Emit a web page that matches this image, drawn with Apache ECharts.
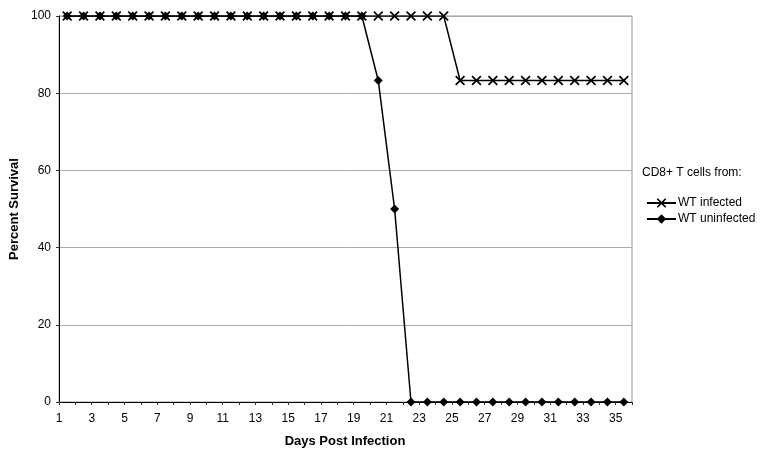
<!DOCTYPE html>
<html>
<head>
<meta charset="utf-8">
<script src="https://cdn.jsdelivr.net/npm/echarts@6/dist/echarts.min.js"></script>
<style>html,body{margin:0;padding:0;background:#fff;}#c{width:761px;height:459px;}</style>
</head>
<body>
<div id="c"></div>
<script>
// Days post infection (categories)
var days = ['1','2','3','4','5','6','7','8','9','10','11','12','13','14','15','16','17','18','19','20','21','22','23','24','25','26','27','28','29','30','31','32','33','34','35'];
// Percent survival, CD8+ T cells from WT infected mice
var wtInfected = [100,100,100,100,100,100,100,100,100,100,100,100,100,100,100,100,100,100,100,100,100,100,100,100,83.3,83.3,83.3,83.3,83.3,83.3,83.3,83.3,83.3,83.3,83.3];
// Percent survival, CD8+ T cells from WT uninfected mice
var wtUninfected = [100,100,100,100,100,100,100,100,100,100,100,100,100,100,100,100,100,100,100,83.3,50,0,0,0,0,0,0,0,0,0,0,0,0,0,0];
// Axis ticks
var yTicks = [0,20,40,60,80,100];
var xTickMin = 1, xTickMax = 36;

var FONT = "'Liberation Sans', Arial, Helvetica, sans-serif";
var xPath = 'path://M0,0.12L0.12,0L0.5,0.38L0.88,0L1,0.12L0.62,0.5L1,0.88L0.88,1L0.5,0.62L0.12,1L0,0.88L0.38,0.5Z';

var chart = echarts.init(document.getElementById('c'), null, {renderer: 'canvas'});
chart.setOption({
  backgroundColor: '#fff',
  animation: false,
  grid: {left: 59, right: 129, top: 16, bottom: 57, show: true, borderColor: '#999', borderWidth: 1, backgroundColor: 'transparent'},
  xAxis: [
    {type: 'category', data: days, boundaryGap: true, show: false},
    {type: 'value', min: xTickMin, max: xTickMax, interval: 1, position: 'bottom',
      axisLine: {show: true, onZero: false, lineStyle: {color: '#000', width: 1}},
      axisTick: {show: true, length: 3, lineStyle: {color: '#333'}},
      splitLine: {show: false},
      axisLabel: {margin: 11, color: '#000', fontFamily: FONT, fontSize: 12,
        formatter: function (v) { return (v % 2 === 1 && v <= 35) ? String(v) : ''; }}
    }
  ],
  yAxis: {type: 'value', min: 0, max: 100, interval: 20,
    axisLine: {show: true, lineStyle: {color: '#000', width: 1}},
    axisTick: {show: true, length: 3, lineStyle: {color: '#333'}},
    splitLine: {show: true, lineStyle: {color: '#aaa', width: 1}},
    axisLabel: {margin: 8, color: '#000', fontFamily: FONT, fontSize: 12,
      formatter: function (v) { return yTicks.indexOf(v) >= 0 ? String(v) : ''; }}
  },
  legend: {
    orient: 'vertical', left: 641, top: 192, itemWidth: 29, itemHeight: 12, itemGap: 4,
    data: ['WT infected', 'WT uninfected'],
    textStyle: {color: '#000', fontFamily: FONT, fontSize: 12, padding: [0,0,0,-3]}
  },
  graphic: [
    {type: 'text', left: 642, top: 167, style: {text: 'CD8+ T cells from:', fill: '#000', font: '12px ' + FONT}},
    {type: 'text', x: 14, y: 209, rotation: Math.PI / 2, style: {text: 'Percent Survival', fill: '#000', font: 'bold 13px ' + FONT, textAlign: 'center', textVerticalAlign: 'middle'}},
    {type: 'text', x: 345, y: 441, style: {text: 'Days Post Infection', fill: '#000', font: 'bold 13px ' + FONT, textAlign: 'center', textVerticalAlign: 'middle'}}
  ],
  series: [
    {name: 'WT uninfected', type: 'line', xAxisIndex: 0, data: wtUninfected,
      symbol: 'diamond', symbolSize: 9, showAllSymbol: true, z: 2,
      lineStyle: {color: '#000', width: 1.5}, itemStyle: {color: '#000'}},
    {name: 'WT infected', type: 'line', xAxisIndex: 0, data: wtInfected,
      symbol: xPath, symbolSize: 10, showAllSymbol: true, z: 3,
      lineStyle: {color: '#000', width: 1.5}, itemStyle: {color: '#000'}}
  ]
});
</script>
</body>
</html>
